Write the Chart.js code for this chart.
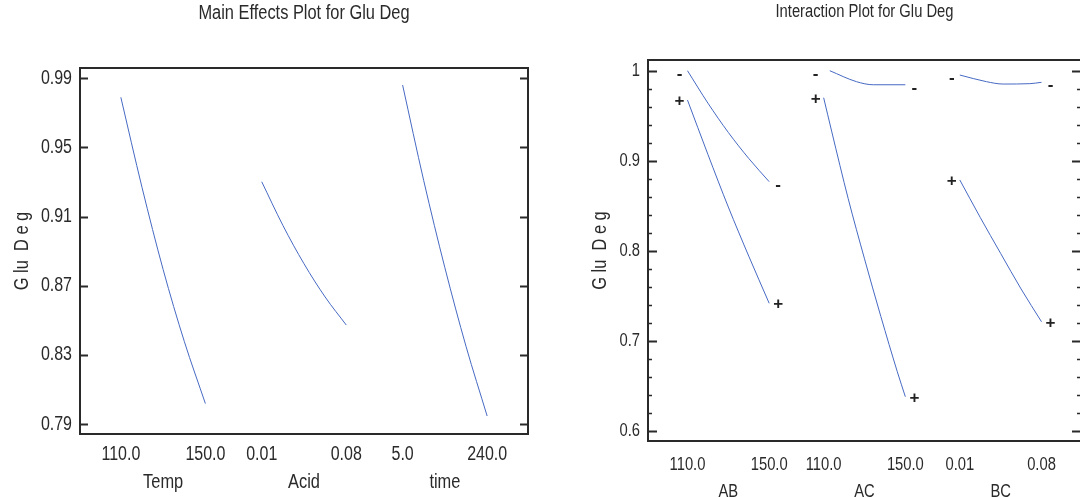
<!DOCTYPE html>
<html>
<head>
<meta charset="utf-8">
<script src="https://cdn.jsdelivr.net/npm/chart.js@4.4.0/dist/chart.umd.min.js"></script>
<style>
html,body{margin:0;padding:0;background:#fff;overflow:hidden;width:1080px;height:497px;}
.box{position:absolute;top:0;height:497px;}
</style>
</head>
<body>
<div class="box" style="left:0;width:540px;"><canvas id="c1" width="540" height="497"></canvas></div>
<div class="box" style="left:540px;width:542px;"><canvas id="c2" width="542" height="497"></canvas></div>
<script>
// ---------- Main effects data ----------
const mainTitle = 'Main Effects Plot for Glu Deg';
const mainFactors = ['Temp', 'Acid', 'time'];
const mainLow = ['110.0', '0.01', '5.0'];
const mainHigh = ['150.0', '0.08', '240.0'];
const mainLowVal = [110, 0.01, 5];
const mainHighVal = [150, 0.08, 240];
const tempX = [110, 120, 130, 140, 150];
const tempY = [0.979, 0.927, 0.8795, 0.838, 0.802];
const acidX = [0.01, 0.0275, 0.045, 0.0625, 0.08];
const acidY = [0.9302, 0.905, 0.8828, 0.8636, 0.8474];
const timeX = [5, 63.75, 122.5, 181.25, 240];
const timeY = [0.9861, 0.9308, 0.8805, 0.8351, 0.7948];
const mainYTicks = [0.79, 0.83, 0.87, 0.91, 0.95, 0.99];

// ---------- Interaction data ----------
const interTitle = 'Interaction Plot for Glu Deg';
const interPairs = ['AB', 'AC', 'BC'];
const interLow = ['110.0', '110.0', '0.01'];
const interHigh = ['150.0', '150.0', '0.08'];
const interLowVal = [110, 110, 0.01];
const interHighVal = [150, 150, 0.08];
const abMinusX = [110, 120, 130, 140, 150];
const abMinusY = [1.0, 0.964, 0.9314, 0.9025, 0.8767];
const abPlusX = [110, 120, 130, 140, 150];
const abPlusY = [0.9674, 0.907, 0.8485, 0.794, 0.7416];
const acMinusX = [113, 126.1, 134.3, 150];
const acMinusY = [1.0, 0.9878, 0.9844, 0.9844];
const acPlusX = [110, 114, 122, 130, 138, 146, 150];
const acPlusY = [0.97, 0.932, 0.858, 0.791, 0.727, 0.666, 0.6378];
const bcMinusX = [0.01, 0.0329, 0.0471, 0.07, 0.08];
const bcMinusY = [0.9952, 0.9878, 0.9852, 0.9856, 0.9871];
const bcPlusX = [0.01, 0.0275, 0.045, 0.0625, 0.08];
const bcPlusY = [0.8786, 0.837, 0.797, 0.7575, 0.7211];
const interYTicks = [0.6, 0.7, 0.8, 0.9, 1.0];
const yLabel = 'G lu  D e g';

// ---------- styling / layout ----------
const FONT = '"Liberation Sans", Arial, sans-serif';
const SX = 0.82;            // horizontal condensing of text (narrow face)
const LINE = 'rgb(70,105,195)';
const INK = '#2a2a2a';
const SEG = 0.6;            // width of one factor panel in axis units
const XMIN = -0.29, XMAX = 2.89;

function series(k, xs, ys, lo, hi, sign) {
  return {
    data: xs.map((x, i) => ({x: k + SEG * (x - lo) / (hi - lo), y: ys[i]})),
    sign: sign, seg: k,
    borderColor: LINE, borderWidth: 1, pointRadius: 0,
    cubicInterpolationMode: 'monotone', fill: false
  };
}

function patchCtx(ctx) {
  if (ctx._origFill) return;
  const orig = CanvasRenderingContext2D.prototype.fillText;
  ctx._origFill = orig;
  ctx.fillText = function (t, x, y) {
    this.save();
    this.translate(x, y);
    this.scale(SX, 1);
    orig.call(this, t, 0, 0);
    this.restore();
  };
}
function unpatchCtx(ctx) {
  if (ctx._origFill) { delete ctx.fillText; delete ctx._origFill; }
}

const framePlugin = {
  id: 'frame',
  beforeDraw(chart) { patchCtx(chart.ctx); },
  afterDraw(chart) {
    const o = chart.options.plugins.frame;
    const {ctx, chartArea: a, scales} = chart;
    const y = scales.y, x = scales.x;
    ctx.save();
    // title (still condensed)
    ctx.fillStyle = INK;
    ctx.font = o.titleSize + 'px ' + FONT;
    ctx.textAlign = 'center';
    ctx.textBaseline = 'middle';
    ctx.fillText(o.title, (a.left + a.right) / 2, o.titleY);
    unpatchCtx(ctx);
    // box
    ctx.strokeStyle = INK;
    ctx.lineWidth = 2;
    ctx.strokeRect(a.left, a.top, a.right - a.left, a.bottom - a.top);
    // inward ticks
    const drawTick = (v, len, w) => {
      const py = Math.round(y.getPixelForValue(v)) + 0.5;
      ctx.lineWidth = w;
      ctx.beginPath();
      ctx.moveTo(a.left, py); ctx.lineTo(a.left + len, py);
      ctx.moveTo(a.right, py); ctx.lineTo(a.right - len, py);
      ctx.stroke();
    };
    o.majors.forEach(v => drawTick(v, o.majorLen, 2));
    if (o.minorStep) {
      const lo = o.majors[0], hi = o.majors[o.majors.length - 1];
      const n = Math.round((hi - lo) / o.minorStep);
      for (let i = 1; i < n; i++) {
        const v = lo + i * o.minorStep;
        if (o.majors.some(m => Math.abs(m - v) < 1e-6)) continue;
        drawTick(v, o.minorLen, 1.5);
      }
    }
    // +/- markers
    ctx.fillStyle = '#222';
    ctx.font = 'bold 17px "Liberation Sans", Arial, sans-serif';
    ctx.textBaseline = 'alphabetic';
    ctx.textAlign = 'center';
    chart.data.datasets.forEach(ds => {
      if (!ds.sign) return;
      const d = ds.data;
      const xl = x.getPixelForValue(ds.seg);
      const xr = x.getPixelForValue(ds.seg + SEG);
      const yl = y.getPixelForValue(d[0].y);
      const yr = y.getPixelForValue(d[d.length - 1].y);
      const dy = ds.sign === '-' ? 8 : 6;
      ctx.fillText(ds.sign, xl - 8, yl + dy);
      ctx.fillText(ds.sign, xr + 9, yr + dy);
    });
    ctx.restore();
  }
};

function makeChart(id, p) {
  const tickPos = [];
  const tickLab = [];
  p.low.forEach((l, k) => { tickPos.push(k, k + SEG); tickLab.push(l, p.high[k]); });
  return new Chart(document.getElementById(id), {
    type: 'line',
    data: {datasets: p.datasets},
    plugins: [framePlugin],
    options: {
      responsive: false,
      animation: false,
      events: [],
      layout: {padding: {top: p.top, right: p.right, left: 0, bottom: 0}},
      plugins: {
        legend: {display: false},
        tooltip: {enabled: false},
        title: {display: false},
        frame: {
          title: p.title, titleSize: p.titleSize, titleY: p.titleY,
          majors: p.yTicks, majorLen: p.majorLen, minorStep: p.minorStep, minorLen: 4
        }
      },
      scales: {
        x: {
          type: 'linear', position: 'bottom', weight: 0, min: XMIN, max: XMAX,
          grid: {display: false, drawTicks: false}, border: {display: false},
          afterBuildTicks: s => { s.ticks = tickPos.map(v => ({value: v})); },
          afterFit: s => { s.height = p.h1; },
          ticks: {
            autoSkip: false, maxRotation: 0, minRotation: 0, padding: p.tickPad,
            color: INK, font: {family: FONT, size: p.tickSize},
            callback: (v, i) => tickLab[i]
          }
        },
        x2: {
          type: 'linear', position: 'bottom', weight: 1, min: XMIN, max: XMAX,
          grid: {display: false, drawTicks: false}, border: {display: false},
          afterBuildTicks: s => { s.ticks = p.names.map((n, k) => ({value: k + SEG / 2})); },
          afterFit: s => { s.height = p.h2; },
          ticks: {
            autoSkip: false, maxRotation: 0, minRotation: 0, padding: p.namePad,
            color: INK, font: {family: FONT, size: p.nameSize},
            callback: (v, i) => p.names[i]
          }
        },
        y: {
          type: 'linear', position: 'left', min: p.ymin, max: p.ymax,
          grid: {display: false, drawTicks: false}, border: {display: false},
          afterBuildTicks: s => { s.ticks = p.yTicks.map(v => ({value: v})); },
          afterFit: s => { s.width = p.yWidth; },
          ticks: {
            padding: 8, color: INK, font: {family: FONT, size: p.tickSize},
            callback: v => p.yFmt(v)
          },
          title: {
            display: true, text: yLabel, color: INK,
            font: {family: FONT, size: 20}, padding: {top: p.yTitlePad, bottom: 0}
          }
        }
      }
    }
  });
}

makeChart('c1', {
  title: mainTitle, titleSize: 20, titleY: 13,
  top: 68, right: 12, yWidth: 80, yTitlePad: 10,
  h1: 32, h2: 31, tickPad: 9, namePad: 4, tickSize: 19.5, nameSize: 20,
  ymin: 0.7844, ymax: 0.99595, yTicks: mainYTicks, yFmt: v => v.toFixed(2),
  majorLen: 8, minorStep: 0,
  low: mainLow, high: mainHigh, names: mainFactors,
  datasets: [
    series(0, tempX, tempY, mainLowVal[0], mainHighVal[0], null),
    series(1, acidX, acidY, mainLowVal[1], mainHighVal[1], null),
    series(2, timeX, timeY, mainLowVal[2], mainHighVal[2], null)
  ]
});

makeChart('c2', {
  title: interTitle, titleSize: 18, titleY: 12,
  top: 60, right: 1, yWidth: 108, yTitlePad: 48,
  h1: 34, h2: 22, tickPad: 13, namePad: 6, tickSize: 18, nameSize: 18,
  ymin: 0.5886, ymax: 1.0119, yTicks: interYTicks, yFmt: v => String(+v.toFixed(1)),
  majorLen: 9, minorStep: 0.02,
  low: interLow, high: interHigh, names: interPairs,
  datasets: [
    series(0, abMinusX, abMinusY, interLowVal[0], interHighVal[0], '-'),
    series(0, abPlusX, abPlusY, interLowVal[0], interHighVal[0], '+'),
    series(1, acMinusX, acMinusY, interLowVal[1], interHighVal[1], '-'),
    series(1, acPlusX, acPlusY, interLowVal[1], interHighVal[1], '+'),
    series(2, bcMinusX, bcMinusY, interLowVal[2], interHighVal[2], '-'),
    series(2, bcPlusX, bcPlusY, interLowVal[2], interHighVal[2], '+')
  ]
});
</script>
</body>
</html>
